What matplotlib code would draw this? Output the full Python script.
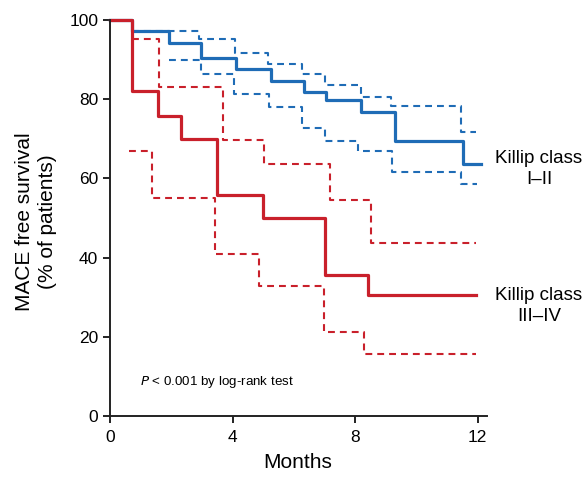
import matplotlib
matplotlib.use("Agg")
import matplotlib.pyplot as plt

plt.rcParams['font.family'] = ['Liberation Sans', 'DejaVu Sans']

# Killip I-II (blue)
blue_t = [0, 0.73, 1.91, 2.97, 4.10, 5.25, 6.34, 7.06, 8.19, 9.31, 11.53, 12.12]
blue_s = [100, 97.1, 94.2, 90.4, 87.7, 84.7, 81.9, 79.7, 76.7, 69.4, 63.6, 63.6]
blue_up_t = [0.73, 2.91, 4.08, 5.17, 6.28, 7.03, 8.20, 9.18, 11.47, 11.93]
blue_up_s = [97.1, 95.2, 91.6, 88.9, 86.4, 83.6, 80.5, 78.2, 71.8, 71.8]
blue_lo_t = [1.91, 2.97, 4.06, 5.20, 6.28, 7.00, 8.09, 9.21, 11.47, 11.97]
blue_lo_s = [89.9, 86.4, 81.4, 78.1, 72.6, 69.4, 67.0, 61.7, 58.5, 58.5]

# Killip III-IV (red)
red_t = [0, 0.71, 1.55, 2.32, 3.49, 4.98, 7.03, 8.42, 11.95]
red_s = [100, 82.1, 75.8, 70.0, 55.8, 50.1, 35.5, 30.5, 30.5]
red_up_t = [0.71, 1.61, 3.70, 5.04, 7.19, 8.53, 11.95]
red_up_s = [95.2, 83.2, 69.7, 63.6, 54.5, 43.8, 43.8]
red_lo_t = [0.63, 1.36, 3.43, 4.85, 6.97, 8.30, 11.95]
red_lo_s = [67.0, 55.0, 40.8, 32.9, 21.1, 15.7, 15.7]

x_ticks = [0, 4, 8, 12]
y_ticks = [0, 20, 40, 60, 80, 100]

blue = '#1f6cb6'
red = '#c9202b'

fig = plt.figure(figsize=(5.88, 4.78), dpi=100)
ax = fig.add_axes([0.1871, 0.1297, 0.641, 0.8285])

dash = (0, (3.3, 2.4))
ax.step(blue_up_t, blue_up_s, where='post', color=blue, lw=1.5, linestyle=dash, clip_on=False)
ax.step(blue_lo_t, blue_lo_s, where='post', color=blue, lw=1.5, linestyle=dash, clip_on=False)
ax.step(red_up_t, red_up_s, where='post', color=red, lw=1.5, linestyle=dash, clip_on=False)
ax.step(red_lo_t, red_lo_s, where='post', color=red, lw=1.5, linestyle=dash, clip_on=False)
ax.step(blue_t, blue_s, where='post', color=blue, lw=2.3, clip_on=False)
ax.step(red_t, red_s, where='post', color=red, lw=2.3, clip_on=False)

ax.set_xlim(0, 12.3)
ax.set_ylim(0, 100)
ax.set_xticks(x_ticks)
ax.set_yticks(y_ticks)
ax.tick_params(labelsize=12.5, length=5, width=1.4, color='#222222')
ax.tick_params(axis='x', pad=5)
for s in ['top', 'right']:
    ax.spines[s].set_visible(False)
for s in ['left', 'bottom']:
    ax.spines[s].set_linewidth(1.4)
    ax.spines[s].set_color('#222222')

fig.text(298/588, 1 - 463/478, 'Months', ha='center', va='center', fontsize=15)
fig.text(36/588, 1 - 222/478, 'MACE free survival\n(% of patients)', ha='center', va='center',
         rotation=90, fontsize=15, linespacing=1.25)

ax.text(0.08, 0.086, r'$\it{P}$ < 0.001 by log-rank test', transform=ax.transAxes,
        fontsize=9.6, va='center', ha='left')

fig.text(539/588, 1 - 169/478, 'Killip class\nI–II', ha='center', va='center',
         fontsize=13.5, linespacing=1.25)
fig.text(539/588, 1 - 306/478, 'Killip class\nIII–IV', ha='center', va='center',
         fontsize=13.5, linespacing=1.25)

fig.savefig('out.png', dpi=100)
